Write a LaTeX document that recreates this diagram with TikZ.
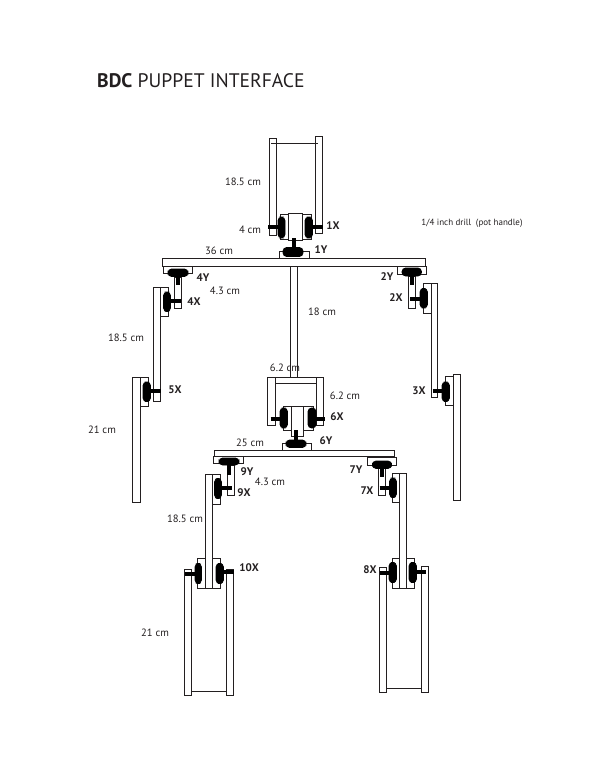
\documentclass[tikz,border=0pt]{standalone}
\usepackage{fontspec}
\setmainfont{PT Sans}
\definecolor{inkline}{HTML}{231F20}
\begin{document}
\begin{tikzpicture}[
  x=1pt, y=-1pt,
  part/.style={draw=inkline, line width=1pt, fill=white},
  rod/.style={draw=inkline, line width=1pt},
  pill/.style={draw=black, line width=0.9pt, fill=black, rounded corners=3.8pt},
  pin/.style={draw=black, line width=4pt},
  dim/.style={text=inkline, font=\fontsize{10.6}{12}\selectfont, inner sep=0pt},
  joint/.style={text=inkline, font=\fontsize{11}{12}\selectfont\bfseries, inner sep=0pt}
]
\useasboundingbox (0,0) rectangle (600,776);
\node[anchor=base west, inner sep=0pt, text=inkline, font=\fontsize{19.6}{24}\selectfont] (title) at (97,88) {\textbf{BDC} PUPPET INTERFACE};

\draw[part] (269,138) rectangle (276,235);
\draw[part] (315,136) rectangle (322,233);
\draw[rod] (271,143) -- (318,143);
\draw[part] (280,214) rectangle (311,239);
\draw[part] (288,213) rectangle (302,240);
\draw[part] (279.5,251) rectangle (309.5,258.5);
\draw[part] (162,258.5) rectangle (425.5,266);
\draw[part] (290.5,266) rectangle (297.5,377);

\draw[part] (163,266) rectangle (192,273.5);
\draw[part] (174.5,277) rectangle (181.5,308.5);
\draw[part] (160.5,287) rectangle (168.5,316.5);
\draw[part] (153.5,287.5) rectangle (160.5,401.5);
\draw[part] (140,377) rectangle (148,406.5);
\draw[part] (132.5,377) rectangle (140,502);

\draw[part] (397,266) rectangle (426,274);
\draw[part] (408.5,276) rectangle (415.5,308.5);
\draw[part] (423,283.5) rectangle (431,313);
\draw[part] (431,283) rectangle (437.5,397.5);
\draw[part] (445,376) rectangle (453.5,405.5);
\draw[part] (453.5,374.5) rectangle (460.5,500);

\draw[part] (267.5,377) rectangle (275,425);
\draw[part] (316,377) rectangle (323.5,425);
\draw[part] (275,377) rectangle (316,383.5);
\draw[part] (283,406) rectangle (313.5,430.5);
\draw[part] (291,406) rectangle (303.5,436);
\draw[part] (282.5,443) rectangle (311.5,450.5);
\draw[part] (214.5,450.5) rectangle (394.5,456.5);

\draw[part] (213.5,456) rectangle (243.5,463.5);
\draw[part] (227,465) rectangle (234,495);
\draw[part] (212,474) rectangle (220,504);
\draw[part] (197.5,558.5) rectangle (205,588.5);
\draw[part] (212,558.5) rectangle (220,588.5);
\draw[part] (205,474) rectangle (212,588.5);
\draw[part] (184,569) rectangle (191,695);
\draw[part] (226,569.5) rectangle (233,695.5);
\draw[rod] (191,691.5) -- (226,691.5);

\draw[part] (367,457) rectangle (396.5,465);
\draw[part] (378.5,468.5) rectangle (385.5,495);
\draw[part] (392,473) rectangle (399.5,502);
\draw[part] (392,558) rectangle (399.5,588.5);
\draw[part] (406,558) rectangle (414,588.5);
\draw[part] (399.5,473) rectangle (406,588.5);
\draw[part] (379,567) rectangle (386.5,692.5);
\draw[part] (421,566) rectangle (428,692);
\draw[rod] (386.5,688.5) -- (421,688.5);

\draw[pill] (278,217) rectangle (285,238);
\draw[pill] (305,217) rectangle (312.5,238);
\draw[pin] (268,227) -- (278,227);
\draw[pin] (312,227) -- (322.5,227);
\draw[pin] (294,238) -- (294,250);
\draw[pill] (283,247.5) rectangle (303,256.5);

\draw[pill] (168,269) rectangle (188,276.5);
\draw[pin] (178,276) -- (178,285);
\draw[pill] (163.5,292) rectangle (170.5,311.5);
\draw[pin] (170,301) -- (181,301);
\draw[pill] (143,382) rectangle (150.5,401.5);
\draw[pin] (150,391) -- (160.5,391);

\draw[pill] (402,268) rectangle (421.5,276);
\draw[pin] (412,276) -- (412,285);
\draw[pill] (420,288.5) rectangle (427.5,308);
\draw[pin] (410,298.5) -- (420.5,298.5);
\draw[pill] (442,382) rectangle (449.5,401.5);
\draw[pin] (432.5,391) -- (442.5,391);

\draw[pill] (280,408) rectangle (287.5,428);
\draw[pill] (308,408) rectangle (316,428);
\draw[pin] (270.5,418.5) -- (280.5,418.5);
\draw[pin] (315.5,418.5) -- (325,418.5);
\draw[pin] (296.3,430) -- (296.3,442);
\draw[pill] (286,440) rectangle (306,447.5);

\draw[pill] (219,458) rectangle (239,465);
\draw[pin] (229,465) -- (229,475);
\draw[pill] (214.5,478.5) rectangle (221.5,498.5);
\draw[pin] (221,488) -- (231.5,488);
\draw[pill] (195,563.5) rectangle (201.5,583.5);
\draw[pill] (216,563.5) rectangle (223.5,583.5);
\draw[pin] (185,574) -- (195.5,574);
\draw[pin] (223,572) -- (233.5,572);

\draw[pill] (372.5,461) rectangle (391.5,468.5);
\draw[pin] (381.7,468) -- (381.7,477);
\draw[pill] (389.5,478) rectangle (396.5,497.5);
\draw[pin] (379.5,487.5) -- (390,487.5);
\draw[pill] (389,562.5) rectangle (396.5,582.5);
\draw[pill] (409,562.5) rectangle (416.5,582.5);
\draw[pin] (379.5,572.5) -- (389.5,572.5);
\draw[pin] (416,572) -- (426,572);

\node[dim] (topupper) at (243,182) {18.5 cm};
\node[dim] (topbase) at (250,229.5) {4 cm};
\node[joint] (j1x) at (333,226) {1X};
\node[joint] (j1y) at (321,250) {1Y};
\node[dim] (shoulders) at (219,251) {36 cm};
\node[dim, font=\fontsize{9}{10}\selectfont] (drill) at (472,223) {1/4 inch drill\ \ (pot handle)};
\node[joint] (j4y) at (203,278) {4Y};
\node[dim] (armlink) at (225,291) {4.3 cm};
\node[joint] (j4x) at (194,302) {4X};
\node[dim] (spine) at (322,312) {18 cm};
\node[dim] (armupper) at (126,338) {18.5 cm};
\node[joint] (j2y) at (387,277) {2Y};
\node[joint] (j2x) at (396,298) {2X};
\node[joint] (j5x) at (175,390) {5X};
\node[joint] (j3x) at (419,391) {3X};
\node[dim] (hipwide) at (285,368) {6.2 cm};
\node[dim] (hiptall) at (345,396) {6.2 cm};
\node[joint] (j6x) at (337,417) {6X};
\node[dim] (armlower) at (102,430) {21 cm};
\node[dim] (hipbar) at (250,443) {25 cm};
\node[joint] (j6y) at (326,441) {6Y};
\node[joint] (j9y) at (247,472) {9Y};
\node[joint] (j7y) at (356,470) {7Y};
\node[joint] (j9x) at (244,493) {9X};
\node[dim] (leglink) at (270,482) {4.3 cm};
\node[joint] (j7x) at (367,491) {7X};
\node[dim] (legupper) at (185,519) {18.5 cm};
\node[joint] (j10x) at (249,568) {10X};
\node[joint] (j8x) at (370,570) {8X};
\node[dim] (leglower) at (155,633) {21 cm};
\end{tikzpicture}
\end{document}
